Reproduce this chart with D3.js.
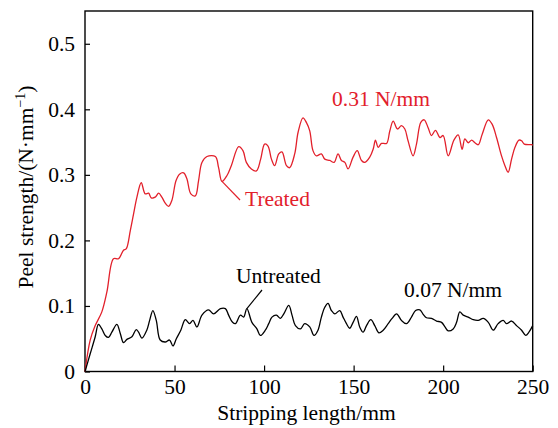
<!DOCTYPE html>
<html><head><meta charset="utf-8">
<script src="https://cdn.jsdelivr.net/npm/d3@7"></script>
<style>body{margin:0;background:#fff}svg{display:block}text{font-family:"Liberation Serif","Times New Roman",serif}</style>
</head><body><svg id="c" width="558" height="428"></svg>
<script>
const xTicks=[0,50,100,150,200,250];
const yTicks=[0,0.1,0.2,0.3,0.4,0.5];
const yTickLabels=["0","0.1","0.2","0.3","0.4","0.5"];
const treatedX=[0,2.9,5.7,9.4,12.2,15.9,18.7,21.5,23,25.3,27.1,29,31.4,33.6,35.5,37,39.2,41.1,42.9,44.8,46.7,48.5,50.8,52.8,55.1,56.9,59.1,61.6,63.4,65.3,68.1,72.8,74.6,76.5,79.3,81.7,85.8,88.2,90.1,92.9,95.7,98.1,100.3,102.2,104.1,105.9,108.2,110,112.5,114.3,117.1,119,121.7,123.6,125.5,127.3,129.2,132,133.9,136.7,139.1,141.3,143.2,145.1,146.9,149.7,152,154.4,156.3,159,160.9,162.2,163.7,165.6,168.4,170.2,172.1,174.5,176.7,178.6,180.4,183.2,185.1,187.5,189.4,191.6,193.5,195.7,198.2,200,202.8,206,208.4,210.6,212.1,214,215.9,217.7,219.6,221.8,225.2,227.4,229.8,232.6,234.5,236.3,238.2,240.1,242.3,243.8,245.3,249.4,250];
const treatedY=[0,0.048,0.070,0.091,0.121,0.172,0.172,0.185,0.187,0.215,0.240,0.266,0.288,0.271,0.272,0.265,0.266,0.272,0.266,0.257,0.252,0.261,0.291,0.301,0.303,0.294,0.271,0.268,0.291,0.319,0.328,0.328,0.311,0.290,0.299,0.314,0.343,0.337,0.319,0.309,0.306,0.324,0.347,0.344,0.324,0.314,0.332,0.335,0.314,0.311,0.332,0.365,0.387,0.380,0.367,0.337,0.329,0.332,0.324,0.322,0.319,0.332,0.322,0.319,0.309,0.327,0.337,0.322,0.319,0.327,0.339,0.353,0.342,0.348,0.348,0.367,0.382,0.370,0.375,0.370,0.352,0.329,0.347,0.380,0.384,0.372,0.360,0.368,0.357,0.360,0.329,0.353,0.361,0.339,0.355,0.349,0.353,0.349,0.346,0.362,0.384,0.377,0.357,0.329,0.314,0.304,0.324,0.342,0.353,0.352,0.347,0.346,0.345];
const untreatedX=[0,2.9,5.7,7.5,9.4,11.3,13.1,15,17.8,19.7,21.5,23.4,26.2,28.6,29.9,31.8,34.5,36.1,37.9,39.8,42,44.8,47.2,49.1,51,53.5,56,58.4,60.3,62.5,65.3,69,71.8,75.6,78.4,80.2,82.4,84,86.8,88.6,90.4,93.2,96,97.9,100.7,102.6,104.4,106.9,109.1,111,113.8,115.6,117.5,120.3,122.7,125.5,127.9,130.1,132,133.9,135.7,137.6,139.5,142.3,144.1,146,147.8,149.7,151.6,153.4,155.3,157.2,159.6,161.8,164.1,166.5,169.3,171.5,174,176.7,179.5,182.3,184.6,187,188.9,190.7,193.5,196.3,199.1,201,202.8,205.6,207.5,209.3,211.2,214,216.8,219.6,222.4,225.2,228,230.7,233.5,235.4,238.2,241,243.8,246.1,247.9,250];
const untreatedY=[0,0.027,0.053,0.072,0.065,0.055,0.052,0.060,0.072,0.058,0.044,0.049,0.053,0.064,0.060,0.051,0.063,0.078,0.093,0.078,0.048,0.045,0.048,0.039,0.050,0.063,0.079,0.073,0.078,0.068,0.086,0.094,0.088,0.096,0.096,0.086,0.075,0.073,0.086,0.083,0.096,0.075,0.065,0.055,0.063,0.073,0.083,0.086,0.081,0.088,0.101,0.086,0.070,0.065,0.073,0.068,0.055,0.063,0.083,0.098,0.104,0.093,0.088,0.093,0.083,0.073,0.066,0.075,0.084,0.068,0.060,0.070,0.079,0.070,0.059,0.063,0.073,0.081,0.088,0.078,0.073,0.083,0.093,0.094,0.087,0.082,0.081,0.077,0.075,0.068,0.062,0.065,0.075,0.091,0.086,0.083,0.079,0.078,0.081,0.075,0.063,0.073,0.078,0.073,0.077,0.070,0.063,0.055,0.060,0.070];
const RED="#e2202b";
const svg=d3.select("#c");
const L=85,R=532.7,T=11,B=371.5;
const x=d3.scaleLinear().domain([0,250]).range([L,R]);
const y=d3.scaleLinear().domain([0,0.55]).range([B,T]);
svg.append("rect").attr("x",L).attr("y",T).attr("width",R-L).attr("height",B-T).attr("fill","none").attr("stroke","#000").attr("stroke-width",1.4);
const fs="21.5px";
const xa=svg.append("g").attr("transform",`translate(0,${B})`).call(d3.axisBottom(x).tickValues(xTicks).tickSizeInner(-6).tickSizeOuter(0).tickPadding(9).tickFormat(d3.format("d")));
xa.select(".domain").remove();
xa.selectAll("line").attr("stroke","#000").attr("stroke-width",1.2);
xa.selectAll("text").attr("font-size",fs).attr("fill","#000").attr("font-family","Liberation Serif").attr("dy","0.62em");
const ya=svg.append("g").attr("transform",`translate(${L},0)`).call(d3.axisLeft(y).tickValues(yTicks).tickSizeInner(-5).tickSizeOuter(0).tickPadding(10).tickFormat((d,i)=>yTickLabels[i]));
ya.select(".domain").remove();
ya.selectAll("line").attr("stroke","#000").attr("stroke-width",1.2);
ya.selectAll("text").attr("font-size",fs).attr("fill","#000").attr("font-family","Liberation Serif");
const line=d3.line().x(d=>x(d[0])).y(d=>y(d[1])).curve(d3.curveCatmullRom.alpha(0.5));
svg.append("path").datum(d3.zip(treatedX,treatedY)).attr("d",line).attr("fill","none").attr("stroke",RED).attr("stroke-width",1.3);
svg.append("path").datum(d3.zip(untreatedX,untreatedY)).attr("d",line).attr("fill","none").attr("stroke","#000").attr("stroke-width",1.3);
svg.append("text").attr("x",306.5).attr("y",420).attr("text-anchor","middle").attr("font-size",fs).text("Stripping length/mm");
const yl=svg.append("text").attr("transform","translate(33,187) rotate(-90)").attr("text-anchor","middle").attr("font-size",fs);
yl.append("tspan").text("Peel strength/(N·mm");
yl.append("tspan").attr("font-size","14px").attr("dy","-8").text("−1");
yl.append("tspan").attr("dy","8").text(")");
svg.append("text").attr("x",381).attr("y",106).attr("text-anchor","middle").attr("font-size",fs).attr("fill",RED).text("0.31 N/mm");
svg.append("text").attr("x",245).attr("y",206).attr("font-size",fs).attr("fill",RED).text("Treated");
svg.append("line").attr("x1",x(76.5)).attr("y1",y(0.29)).attr("x2",240).attr("y2",200).attr("stroke",RED).attr("stroke-width",1.2);
svg.append("text").attr("x",236).attr("y",283).attr("font-size",fs).attr("fill","#000").text("Untreated");
svg.append("line").attr("x1",x(90.4)).attr("y1",y(0.096)).attr("x2",262).attr("y2",290).attr("stroke","#000").attr("stroke-width",1.2);
svg.append("text").attr("x",453).attr("y",297).attr("text-anchor","middle").attr("font-size",fs).attr("fill","#000").text("0.07 N/mm");
</script></body></html>
